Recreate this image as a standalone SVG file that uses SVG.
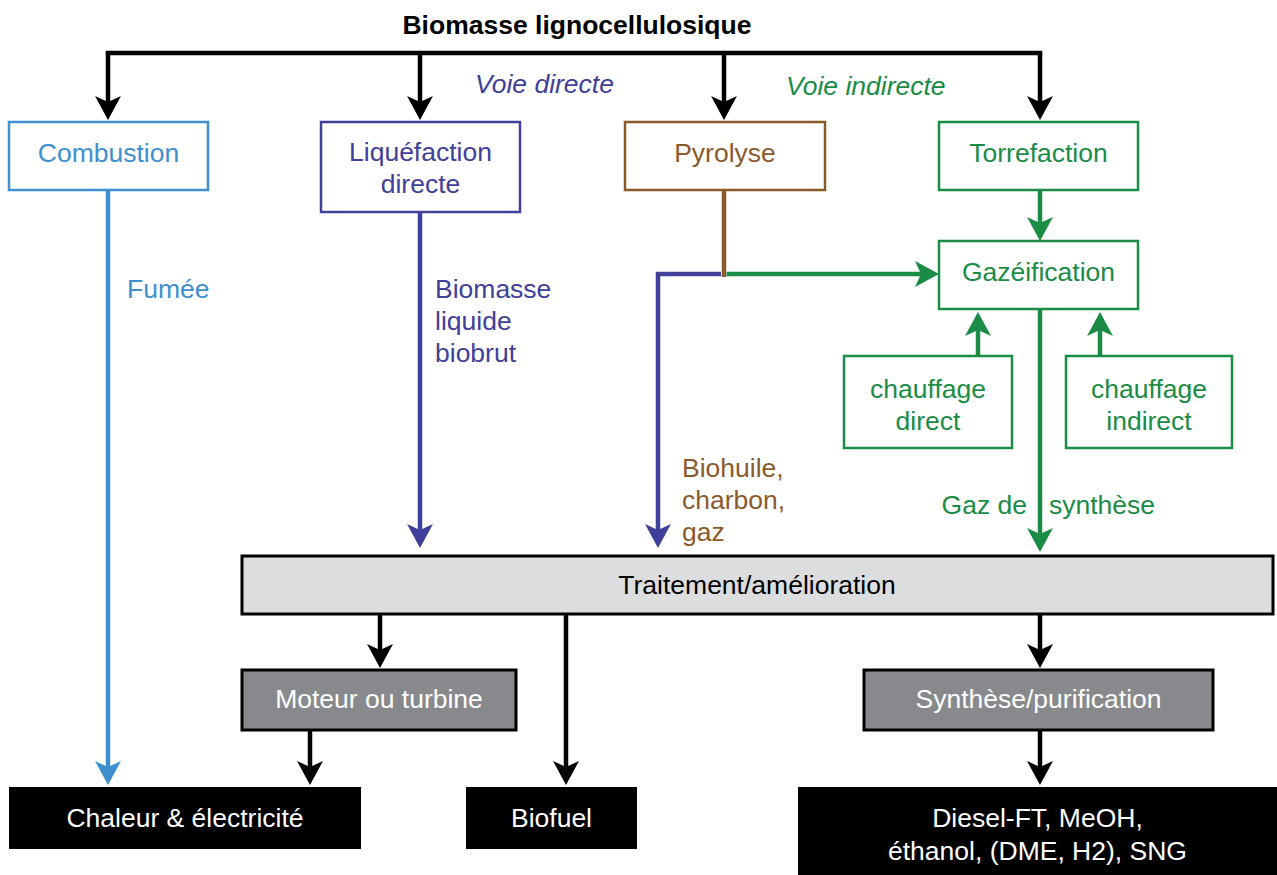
<svg xmlns="http://www.w3.org/2000/svg" width="1277" height="875" viewBox="0 0 1277 875">
<style>
text{font-family:"Liberation Sans",Arial,sans-serif;font-size:26.5px}
.c{text-anchor:middle}
.ln{fill:none;stroke-width:4.5;stroke-linejoin:miter}
.bx{fill:#fff;stroke-width:2.5}
.blue{fill:#3d8fd0}.purple{fill:#40409a}.brown{fill:#8b5a2b}.green{fill:#1a8c46}
</style>
<defs>
<marker id="ak" markerUnits="userSpaceOnUse" viewBox="-10 -14 26 28" refX="0" refY="0" markerWidth="26" markerHeight="28" orient="auto"><path d="M15,0 L-9,-13 L-3,0 L-9,13 Z" fill="#000"/></marker>
<marker id="ab" markerUnits="userSpaceOnUse" viewBox="-10 -14 26 28" refX="0" refY="0" markerWidth="26" markerHeight="28" orient="auto"><path d="M15,0 L-9,-13 L-3,0 L-9,13 Z" fill="#3d8fd0"/></marker>
<marker id="ap" markerUnits="userSpaceOnUse" viewBox="-10 -14 26 28" refX="0" refY="0" markerWidth="26" markerHeight="28" orient="auto"><path d="M15,0 L-9,-13 L-3,0 L-9,13 Z" fill="#40409a"/></marker>
<marker id="ag" markerUnits="userSpaceOnUse" viewBox="-10 -14 26 28" refX="0" refY="0" markerWidth="26" markerHeight="28" orient="auto"><path d="M15,0 L-9,-13 L-3,0 L-9,13 Z" fill="#1a8c46"/></marker>
</defs>

<text x="577" y="34" class="c" font-weight="bold">Biomasse lignocellulosique</text>
<text x="475" y="93" class="purple" font-style="italic">Voie directe</text>
<text x="786" y="95" class="green" font-style="italic">Voie indirecte</text>

<g id="connectors">
<path class="ln" stroke="#000" d="M108,55 V53 H1040 V55"/>
<path class="ln" stroke="#000" d="M108,53 V105" marker-end="url(#ak)"/>
<path class="ln" stroke="#000" d="M420,53 V105" marker-end="url(#ak)"/>
<path class="ln" stroke="#000" d="M724,53 V105" marker-end="url(#ak)"/>
<path class="ln" stroke="#000" d="M1040,53 V105" marker-end="url(#ak)"/>
<path class="ln" stroke="#3d8fd0" d="M108,190 V770" marker-end="url(#ab)"/>
<path class="ln" stroke="#40409a" d="M420,212 V533" marker-end="url(#ap)"/>
<path class="ln" stroke="#40409a" d="M721,274 H658 V533" marker-end="url(#ap)"/>
<path class="ln" stroke="#8b5a2b" d="M724,190 V277"/>
<path class="ln" stroke="#1a8c46" d="M726.5,274 H924" marker-end="url(#ag)"/>
<path class="ln" stroke="#1a8c46" d="M1040,190 V226" marker-end="url(#ag)"/>
<path class="ln" stroke="#1a8c46" d="M978,356 V327" marker-end="url(#ag)"/>
<path class="ln" stroke="#1a8c46" d="M1100,356 V327" marker-end="url(#ag)"/>
<path class="ln" stroke="#1a8c46" d="M1040,309 V537" marker-end="url(#ag)"/>
<path class="ln" stroke="#000" d="M380,614 V653" marker-end="url(#ak)"/>
<path class="ln" stroke="#000" d="M566,614 V770" marker-end="url(#ak)"/>
<path class="ln" stroke="#000" d="M1040,614 V653" marker-end="url(#ak)"/>
<path class="ln" stroke="#000" d="M310,730 V770" marker-end="url(#ak)"/>
<path class="ln" stroke="#000" d="M1040,730 V770" marker-end="url(#ak)"/>
<text x="127" y="298" class="blue">Fumée</text>
<text class="purple"><tspan x="435" y="298">Biomasse</tspan><tspan x="435" y="330">liquide</tspan><tspan x="435" y="362">biobrut</tspan></text>
<text class="brown"><tspan x="682" y="477">Biohuile,</tspan><tspan x="682" y="509">charbon,</tspan><tspan x="682" y="541">gaz</tspan></text>
<text x="1027" y="514" class="green" text-anchor="end">Gaz de</text>
<text x="1049" y="514" class="green">synthèse</text>
</g>

<g id="combustion"><rect class="bx" x="9" y="122" width="199" height="68" stroke="#3d8fd0"/><text x="108.5" y="162" class="c blue">Combustion</text></g>
<g id="liquefaction"><rect class="bx" x="321" y="122" width="199" height="90" stroke="#40409a"/><text class="c purple"><tspan x="420.5" y="161">Liquéfaction</tspan><tspan x="420.5" y="193">directe</tspan></text></g>
<g id="pyrolyse"><rect class="bx" x="625" y="122" width="200" height="68" stroke="#8b5a2b"/><text x="725" y="162" class="c brown">Pyrolyse</text></g>
<g id="torrefaction"><rect class="bx" x="939" y="122" width="199" height="68" stroke="#1a8c46"/><text x="1038.5" y="162" class="c green">Torrefaction</text></g>
<g id="gazeification"><rect class="bx" x="939" y="241" width="199" height="68" stroke="#1a8c46"/><text x="1038.5" y="281" class="c green">Gazéification</text></g>
<g id="chauffage-direct"><rect class="bx" x="844" y="356" width="168" height="92" stroke="#1a8c46"/><text class="c green"><tspan x="928" y="398">chauffage</tspan><tspan x="928" y="430">direct</tspan></text></g>
<g id="chauffage-indirect"><rect class="bx" x="1066" y="356" width="166" height="92" stroke="#1a8c46"/><text class="c green"><tspan x="1149" y="398">chauffage</tspan><tspan x="1149" y="430">indirect</tspan></text></g>
<g id="traitement"><rect x="242" y="556" width="1031" height="58" fill="#dcdddf" stroke="#000" stroke-width="3"/><text x="757" y="594" class="c">Traitement/amélioration</text></g>
<g id="moteur"><rect x="242" y="670" width="274" height="60" fill="#88898d" stroke="#000" stroke-width="3"/><text x="379" y="708" class="c" fill="#fff">Moteur ou turbine</text></g>
<g id="synthese"><rect x="864" y="670" width="349" height="60" fill="#88898d" stroke="#000" stroke-width="3"/><text x="1038.5" y="708" class="c" fill="#fff">Synthèse/purification</text></g>
<g id="chaleur"><rect x="9" y="787" width="352" height="62" fill="#000"/><text x="185" y="827" class="c" fill="#fff">Chaleur &amp; électricité</text></g>
<g id="biofuel"><rect x="466" y="787" width="171" height="62" fill="#000"/><text x="551.5" y="827" class="c" fill="#fff">Biofuel</text></g>
<g id="diesel"><rect x="798" y="787" width="479" height="88" fill="#000"/><text class="c" fill="#fff"><tspan x="1037.5" y="827">Diesel-FT, MeOH,</tspan><tspan x="1037.5" y="860">éthanol, (DME, H2), SNG</tspan></text></g>
</svg>
